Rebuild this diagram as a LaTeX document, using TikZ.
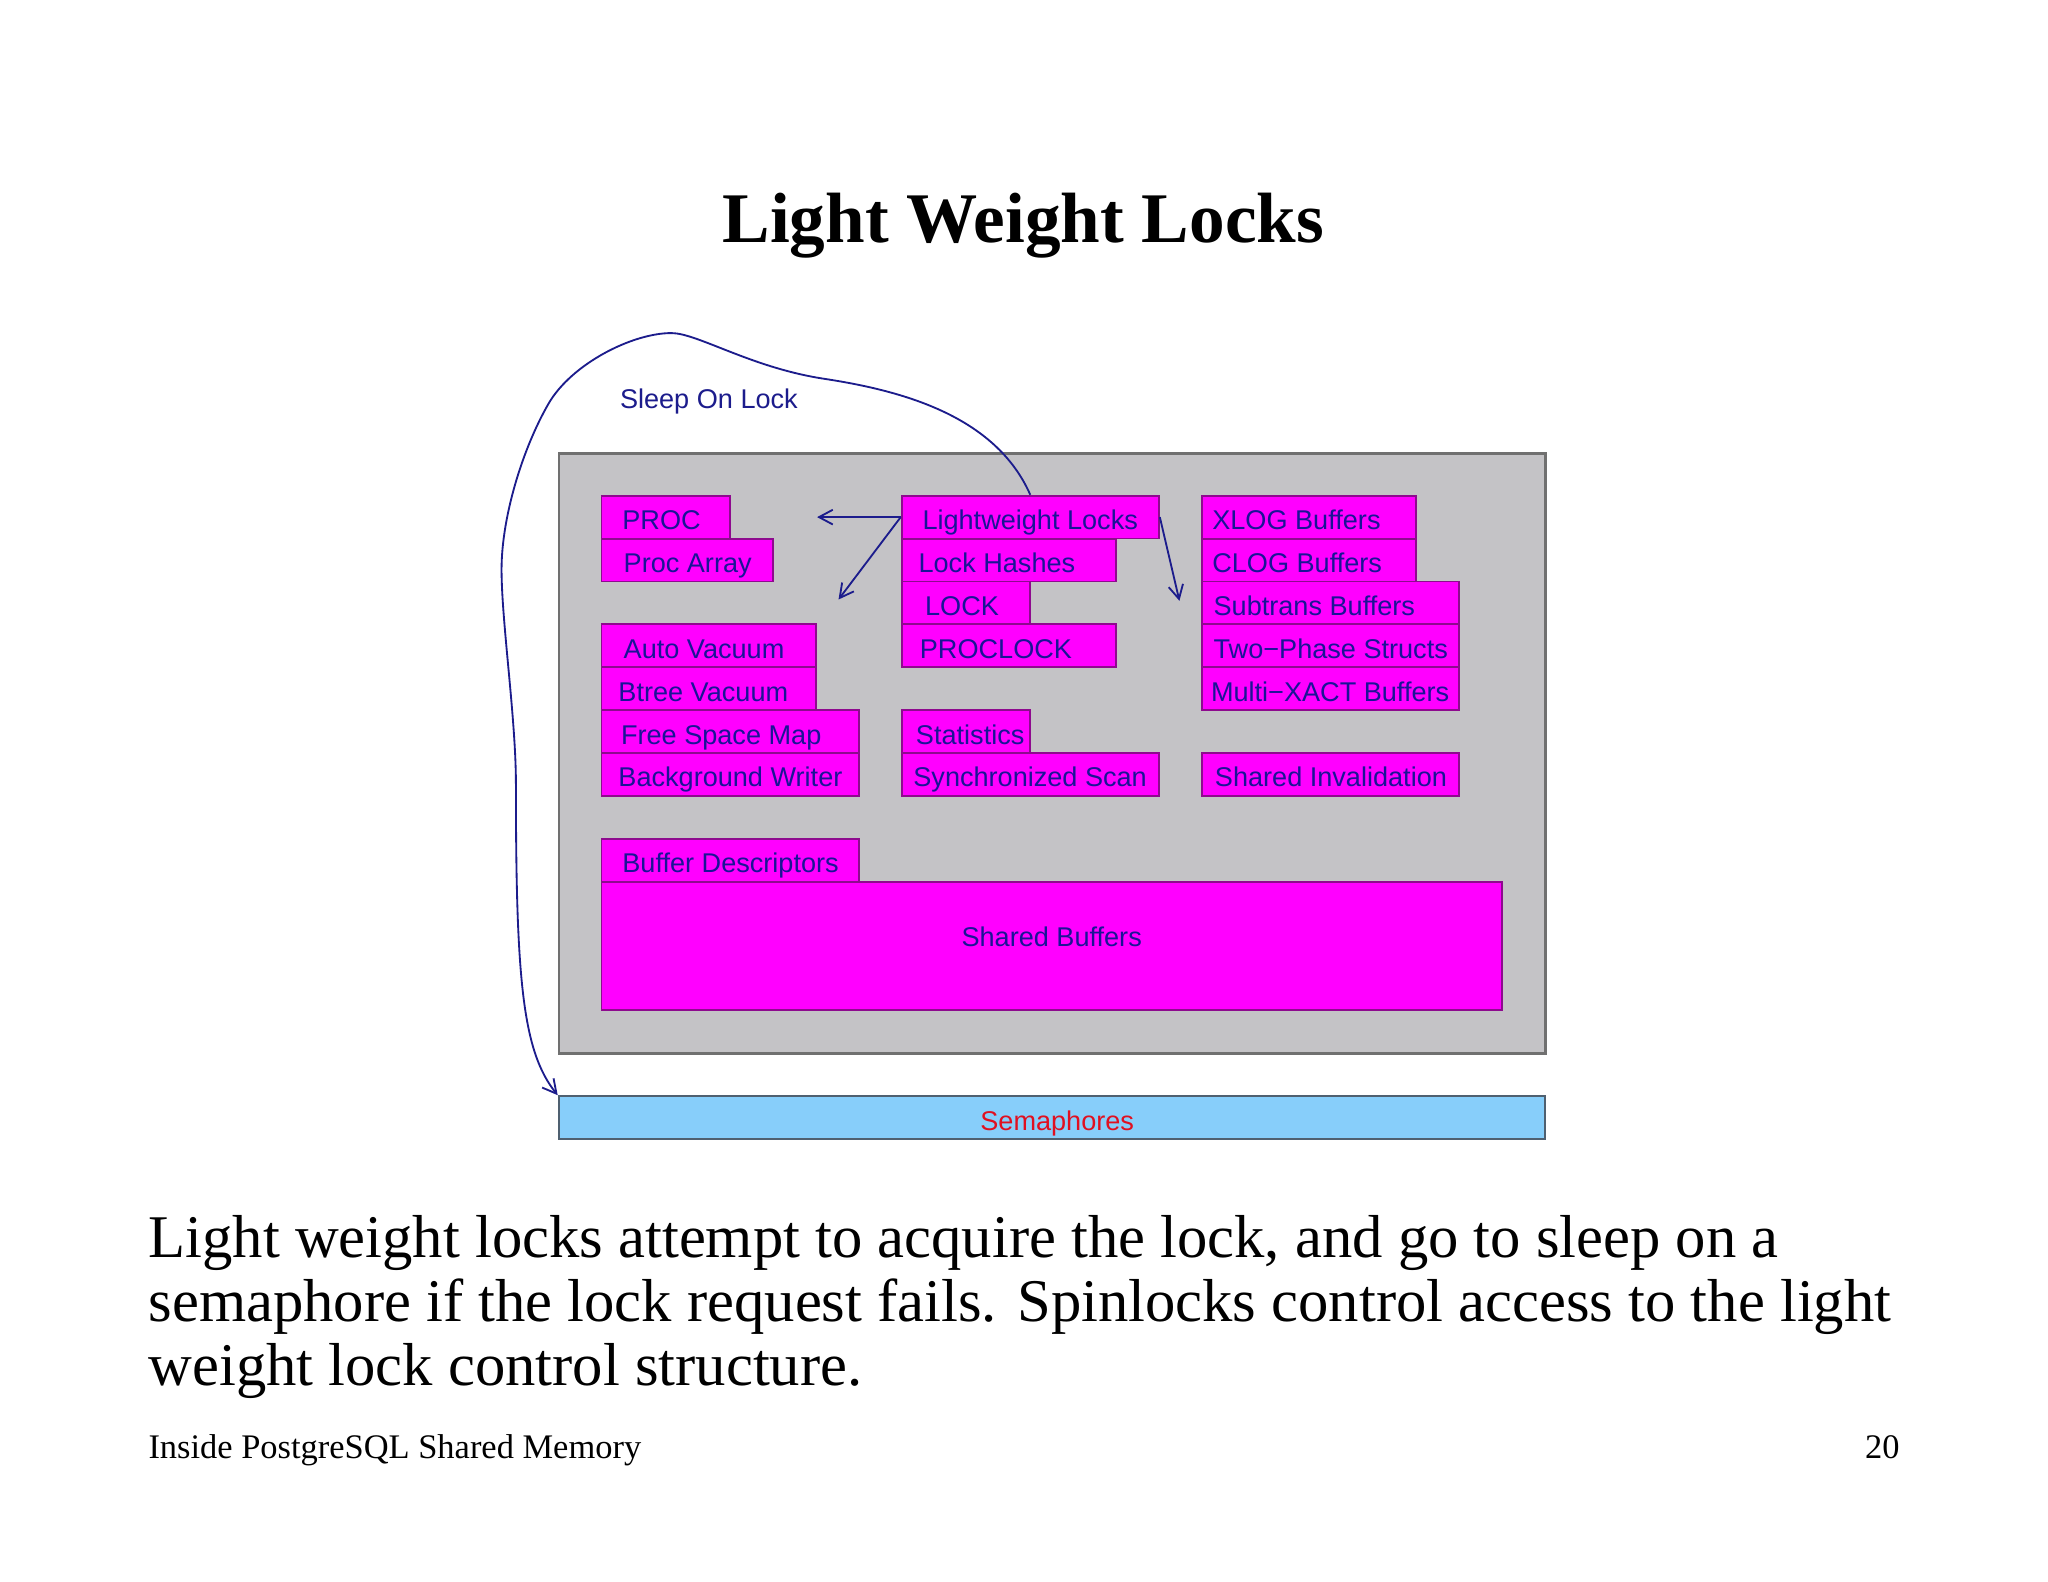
\documentclass[tikz,border=0pt]{standalone}
\usepackage{fontspec}
\setmainfont{Liberation Serif}
\newfontfamily\diafont{Liberation Sans}
\usetikzlibrary{arrows.meta}
\newdimen\px \px=0.01cm
\definecolor{shmgray}{HTML}{C4C3C6}
\definecolor{shmedge}{HTML}{707070}
\definecolor{blkfill}{HTML}{FF00FF}
\definecolor{blkedge}{HTML}{8E0A8E}
\definecolor{blktext}{HTML}{1A1496}
\definecolor{semfill}{HTML}{87CEFA}
\definecolor{semedge}{HTML}{4F6070}
\definecolor{semtext}{HTML}{E01020}
\definecolor{arrblue}{HTML}{1C1C8C}
\tikzset{
  blk/.style={draw=blkedge, fill=blkfill, line width=0.4pt, anchor=north west, minimum height=32.83*\px,
    inner ysep=0pt, text height=5.4pt, text depth=0pt, text=blktext, font=\diafont\fontsize{5.9}{7}\selectfont},
  arr/.style={draw=arrblue, line width=0.4pt, -{Straight Barb[length=3pt,width=3.2pt]}},
  prose/.style={anchor=base west, inner sep=0pt, font=\fontsize{13.2}{14}\selectfont},
}
\newcommand{\blk}[6]{\node[blk, minimum width=#4*\px, inner xsep=#5*\px] (#1) at (#2,#3)
  {\makebox[\dimexpr#4\px-#5\px-#5\px\relax][l]{#6}};}

\begin{document}
\begin{tikzpicture}[x=0.01cm, y=-0.01cm]
  \useasboundingbox[fill=white] (0,0) rectangle (1568,1211);
  \node[anchor=base, inner sep=0pt, font=\bfseries\fontsize{15.5}{18}\selectfont] (title) at (783.5,186) {Light Weight Locks};

  \node[draw=shmedge, fill=shmgray, line width=0.6pt, anchor=north west, minimum width=755.1*\px, minimum height=459.6*\px] (shm) at (427,346) {};
  \blk{proc}{459.8}{378.8}{98.5}{16}{PROC}
  \blk{procarr}{459.8}{411.7}{131.3}{17}{Proc Array}
  \blk{autovac}{459.8}{477.3}{164.2}{17}{Auto Vacuum}
  \blk{btvac}{459.8}{510.2}{164.2}{13}{Btree Vacuum}
  \blk{fsm}{459.8}{543}{197}{15}{Free Space Map}
  \blk{bgw}{459.8}{575.8}{197}{13}{Background Writer}
  \blk{bufdesc}{459.8}{641.5}{197}{16}{Buffer Descriptors}
  \blk{lwl}{689.6}{378.8}{197}{16}{Lightweight Locks}
  \blk{lockhash}{689.6}{411.7}{164.2}{13}{Lock Hashes}
  \blk{lock}{689.6}{444.5}{98.5}{18}{LOCK}
  \blk{proclock}{689.6}{477.3}{164.2}{14}{PROCLOCK}
  \blk{stats}{689.6}{543}{98.5}{11}{Statistics}
  \blk{syncscan}{689.6}{575.8}{197}{9}{Synchronized Scan}
  \blk{xlog}{919.5}{378.8}{164.2}{8}{XLOG Buffers}
  \blk{clog}{919.5}{411.7}{164.2}{8}{CLOG Buffers}
  \blk{subtrans}{919.5}{444.5}{197}{9}{Subtrans Buffers}
  \blk{twophase}{919.5}{477.3}{197}{9}{Two−Phase Structs}
  \blk{multixact}{919.5}{510.2}{197}{7}{Multi−XACT Buffers}
  \blk{sinval}{919.5}{575.8}{197}{10}{Shared Invalidation}
  \node[blk, minimum width=689.4*\px, minimum height=98.5*\px, text depth=5pt] (shbuf) at (459.8,674.3) {Shared Buffers};

  \node[draw=semedge, fill=semfill, line width=0.5pt, anchor=north west, minimum width=755.1*\px, minimum height=32.83*\px,
    inner ysep=0pt, text height=5.4pt, text depth=0pt, text=semtext, font=\diafont\fontsize{5.9}{7}\selectfont] (sem) at (427,838.5) {\hspace*{8\px}Semaphores};

  \node[anchor=base west, inner sep=0pt, text=arrblue, font=\diafont\fontsize{5.9}{7}\selectfont] (sleep) at (474,313) {Sleep On Lock};
  \coordinate (procend) at ([xshift=-0.64cm]lwl.west);
  \coordinate (vacend) at (642,459);
  \coordinate (xlogend) at (903,460);
  \draw[arr] (lwl.west) -- (procend);
  \draw[arr] (lwl.west) -- (vacend);
  \draw[arr] (lwl.east) -- (xlogend);
  \draw[arr] (lwl.north) .. controls (762,318) and (690,299) .. (631,290) .. controls (575,281.5) and (534,255) .. (514,255)
    .. controls (484,255) and (437.5,278.7) .. (420,309) .. controls (400,343.6) and (384,396) .. (384,436)
    .. controls (384,476) and (395,550) .. (395,600) .. controls (395,750) and (400,805) .. (sem.north west);

  \node[prose] (txta) at (113,963) {Light weight locks attempt to acquire the lock, and go to sleep on a};
  \node[prose] (txtb) at (113,1012) {semaphore if the lock request fails. Spinlocks control access to the light};
  \node[prose] (txtc) at (113,1061) {weight lock control structure.};
  \node[anchor=base west, inner sep=0pt, font=\fontsize{7.5}{9}\selectfont] (foot) at (113,1117) {Inside PostgreSQL Shared Memory};
  \node[anchor=base east, inner sep=0pt, font=\fontsize{7.5}{9}\selectfont] (pageno) at (1455,1117) {20};
\end{tikzpicture}
\end{document}
